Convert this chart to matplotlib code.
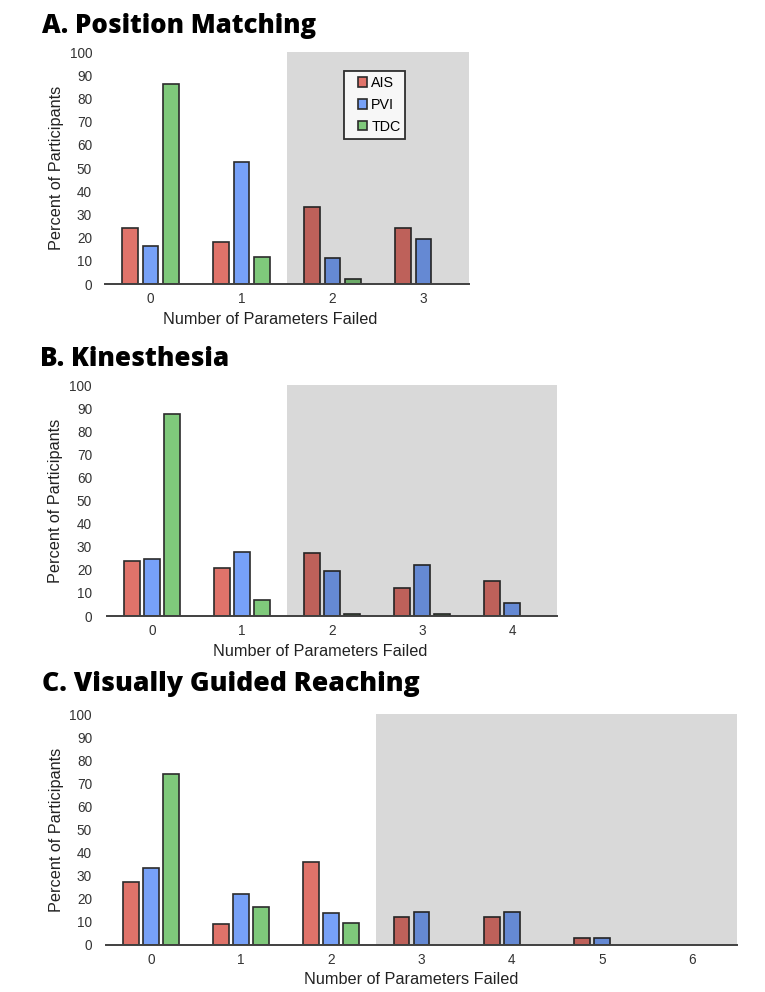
import matplotlib
matplotlib.use("Agg")
import matplotlib.pyplot as plt
import numpy as np
from matplotlib.container import BarContainer
from matplotlib.legend_handler import HandlerPatch
from matplotlib.patches import Rectangle

# ---- data ----
GROUPS = ["AIS", "PVI", "TDC"]
COLORS = {"AIS": "#E0736A", "PVI": "#77A1F8", "TDC": "#7FC97B"}

A_PARAMS = [0, 1, 2, 3]
A_AIS = [24.2, 18.3, 33.4, 24.2]
A_PVI = [16.5, 52.8, 11.2, 19.4]
A_TDC = [86.0, 11.7, 2.3, 0.0]

B_PARAMS = [0, 1, 2, 3, 4]
B_AIS = [23.9, 20.9, 27.1, 12.0, 15.1]
B_PVI = [24.8, 27.5, 19.3, 22.0, 5.5]
B_TDC = [87.5, 6.9, 1.0, 1.0, 0.0]

C_PARAMS = [0, 1, 2, 3, 4, 5, 6]
C_AIS = [27.1, 9.1, 36.1, 12.1, 12.1, 3.0, 0.0]
C_PVI = [33.2, 22.2, 14.0, 14.1, 14.1, 2.9, 0.0]
C_TDC = [74.0, 16.3, 9.4, 0.0, 0.0, 0.0, 0.0]

Y_TICKS = list(range(0, 101, 10))

W, H = 765, 992
TEXT_FONT = ["Liberation Sans", "DejaVu Sans"]
TITLE_FONT = ["Open Sans", "DejaVu Sans"]
BAR_W = 0.175
BAR_STEP = 0.222

plt.rcParams["font.family"] = TEXT_FONT


def px_axes(fig, left, top, right, bottom):
    return fig.add_axes([left / W, 1 - bottom / H, (right - left) / W, (bottom - top) / H])


def small_square(legend, orig_handle, xdescent, ydescent, width, height, fontsize):
    # square at the right end of the handle box, leaving room on the left
    side = 0.65 * fontsize
    return Rectangle((width - side - xdescent, (height - side) / 2 - ydescent), side, side)


def copy_first_bar(legend_handle, orig_handle):
    legend_handle.update_from(orig_handle.patches[0])


def draw_panel(ax, params, series, shade_from, box, xlabel_shift):
    left, top, right, bottom = box
    x = np.array(params, dtype=float)
    for i, (name, vals) in enumerate(zip(GROUPS, series)):
        vals = np.array(vals, dtype=float)
        keep = vals > 0
        ax.bar(x[keep] + (i - 1) * BAR_STEP, vals[keep], width=BAR_W,
               color=COLORS[name], edgecolor="#2b2b2b", linewidth=1.2,
               zorder=2, label=name)
    ax.axvspan(shade_from, params[-1] + 0.5, color="black", alpha=0.15,
               linewidth=0, zorder=3)
    ax.set_xlim(params[0] - 0.5, params[-1] + 0.5)
    ax.set_ylim(0, 100)
    ax.set_yticks(Y_TICKS)
    ax.set_xticks(params)
    for side in ["top", "right", "left"]:
        ax.spines[side].set_visible(False)
    ax.spines["bottom"].set_color("#404040")
    ax.spines["bottom"].set_linewidth(1.4)
    ax.spines["bottom"].set_zorder(4)
    ax.tick_params(axis="both", length=0, labelsize=9.8, labelcolor="#333333")
    ax.tick_params(axis="y", pad=(left - 92) * 0.72)
    ax.tick_params(axis="x", pad=6)
    ax.set_facecolor("none")

    width = right - left
    height = bottom - top
    ax.set_xlabel("Number of Parameters Failed", fontsize=11.7, color="#222222")
    ax.set_ylabel("Percent of Participants", fontsize=11.7, color="#222222")
    ax.xaxis.label.set_va("center")
    ax.yaxis.label.set_va("center")
    ax.xaxis.set_label_coords((width / 2 + xlabel_shift) / width, -35 / height)
    ax.yaxis.set_label_coords((56 - left) / width, 0.5)


fig = plt.figure(figsize=(W / 100, H / 100), dpi=100)

box_a = (105, 52, 469, 284)
ax_a = px_axes(fig, *box_a)
draw_panel(ax_a, A_PARAMS, [A_AIS, A_PVI, A_TDC], 1.5, box_a, -17)
leg = ax_a.legend(loc="upper left", bbox_to_anchor=(344 / W, 1 - 71 / H),
                  bbox_transform=fig.transFigure, borderaxespad=0, fontsize=10.3,
                  frameon=True, fancybox=False, handlelength=1.25, handleheight=0.7,
                  handletextpad=0.3, labelspacing=0.55, borderpad=0.35,
                  handler_map={BarContainer: HandlerPatch(patch_func=small_square,
                                                          update_func=copy_first_bar)})
leg.get_frame().set_edgecolor("black")
leg.get_frame().set_linewidth(1.3)
leg.set_zorder(10)

box_b = (107, 385, 557, 616)
ax_b = px_axes(fig, *box_b)
draw_panel(ax_b, B_PARAMS, [B_AIS, B_PVI, B_TDC], 1.5, box_b, -12)

box_c = (106, 714, 737, 945)
ax_c = px_axes(fig, *box_c)
draw_panel(ax_c, C_PARAMS, [C_AIS, C_PVI, C_TDC], 2.5, box_c, -10)

title_kw = dict(fontweight="heavy", family=TITLE_FONT, va="baseline")
fig.text(42 / W, 1 - 33 / H, "A. Position Matching", fontsize=18.5, **title_kw)
fig.text(40 / W, 1 - 366 / H, "B. Kinesthesia", fontsize=18.8, **title_kw)
fig.text(42 / W, 1 - 691 / H, "C. Visually Guided Reaching", fontsize=19.2, **title_kw)

fig.savefig("out.png", dpi=100, facecolor="white")
